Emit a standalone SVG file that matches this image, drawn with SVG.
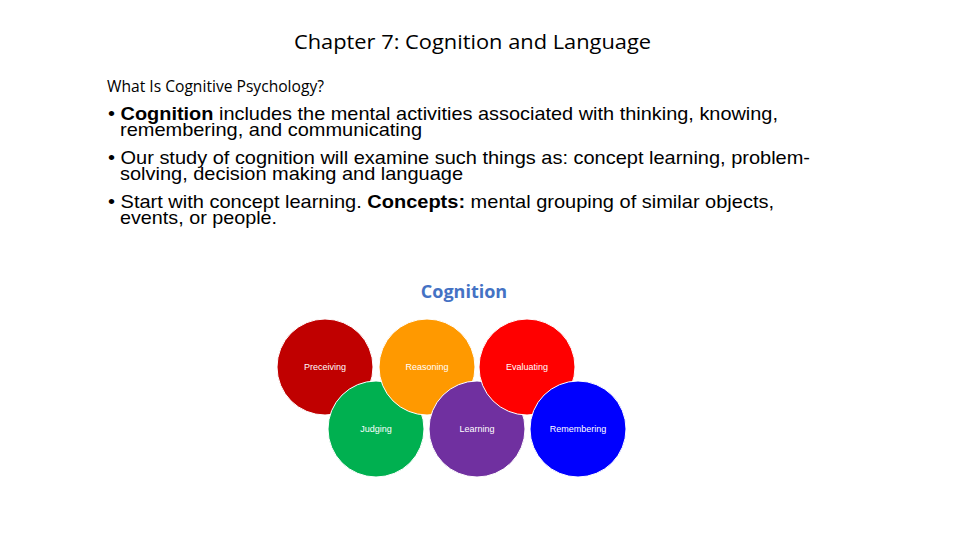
<svg xmlns="http://www.w3.org/2000/svg" width="960" height="540" viewBox="0 0 960 540">
<style>
.t{font-family:"Open Sans","Liberation Sans",sans-serif;fill:#000}
.b{font-family:"Liberation Sans",Arial,sans-serif;font-size:18.5px;fill:#000}
.c{stroke:#fff;stroke-width:1}
.l{font-family:"Liberation Sans",sans-serif;font-size:9px;fill:#fff;text-anchor:middle}
</style>
<rect width="960" height="540" fill="#fff"/>
<text class="t" x="294" y="49" font-size="20" textLength="357" lengthAdjust="spacingAndGlyphs">Chapter  7: Cognition and Language</text>
<text class="t" x="107" y="92" font-size="15.5" textLength="217" lengthAdjust="spacingAndGlyphs">What Is Cognitive Psychology?</text>
<text class="b" x="108" y="120" textLength="670" lengthAdjust="spacingAndGlyphs">• <tspan font-weight="bold">Cognition</tspan> includes the mental activities associated with thinking, knowing,</text>
<text class="b" x="120" y="136" textLength="302" lengthAdjust="spacingAndGlyphs">remembering, and communicating</text>
<text class="b" x="108" y="164" textLength="702" lengthAdjust="spacingAndGlyphs">• Our study of cognition will examine such things as: concept learning, problem-</text>
<text class="b" x="120" y="180" textLength="343" lengthAdjust="spacingAndGlyphs">solving, decision making and language</text>
<text class="b" x="108" y="208" textLength="666" lengthAdjust="spacingAndGlyphs">• Start with concept learning. <tspan font-weight="bold">Concepts:</tspan> mental grouping of similar objects,</text>
<text class="b" x="120" y="224" textLength="157" lengthAdjust="spacingAndGlyphs">events, or people.</text>
<text x="464" y="298" font-family="'Open Sans','Liberation Sans',sans-serif" font-size="18" font-weight="bold" fill="#4472c4" text-anchor="middle">Cognition</text>
<g id="preceiving"><circle class="c" cx="325" cy="367" r="48" fill="#c00000"/><text class="l" x="325" y="370">Preceiving</text></g>
<g id="judging"><circle class="c" cx="376" cy="429" r="48" fill="#00b050"/><text class="l" x="376" y="432">Judging</text></g>
<g id="reasoning"><circle class="c" cx="427" cy="367" r="48" fill="#ff9900"/><text class="l" x="427" y="370">Reasoning</text></g>
<g id="learning"><circle class="c" cx="477" cy="429" r="48" fill="#7030a0"/><text class="l" x="477" y="432">Learning</text></g>
<g id="evaluating"><circle class="c" cx="527" cy="367" r="48" fill="#ff0000"/><text class="l" x="527" y="370">Evaluating</text></g>
<g id="remembering"><circle class="c" cx="578" cy="429" r="48" fill="#0000ff"/><text class="l" x="578" y="432">Remembering</text></g>
<g id="connectors"/>
</svg>
